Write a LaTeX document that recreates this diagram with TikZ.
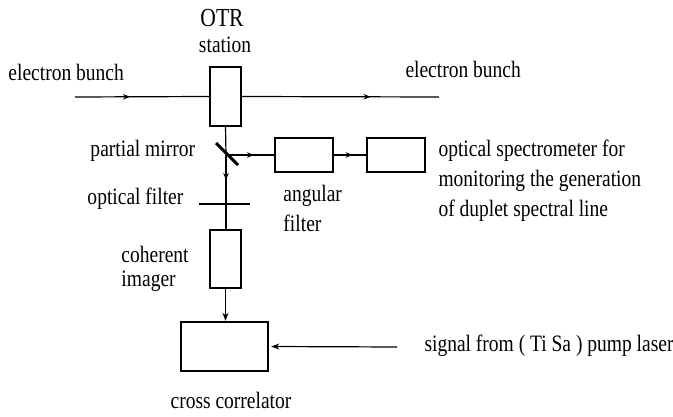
\documentclass[tikz,border=0pt]{standalone}
\usepackage{fontspec}
\setmainfont{Liberation Serif}
\usetikzlibrary{arrows.meta,decorations.markings}
\begin{document}
\begin{tikzpicture}[x=1pt,y=-1pt,
  line width=1.2pt,
  box/.style={draw,line width=1.2pt,fill=white,inner sep=0pt,minimum width=#1},
  lbl/.style={font=\fontsize{23.5}{30}\selectfont,inner sep=0pt,xscale=0.83,transform shape},
  midarr/.style={postaction={decorate},decoration={markings,mark=at position #1 with {\arrow{Stealth[length=7pt,width=5.5pt]}}}},
  endarr/.style={-{Stealth[length=8pt,width=6pt]}}]
\useasboundingbox (0,0) rectangle (673,417);
% boxes
\node[box=31pt,minimum height=59pt] (otr) at (225.5,96.5) {};
\node[box=58pt,minimum height=34pt] (ang) at (304,155) {};
\node[box=58pt,minimum height=34pt] (spec) at (396,155) {};
\node[box=31pt,minimum height=58pt] (img) at (225.5,259) {};
\node[box=87pt,minimum height=49pt,line width=2.5pt] (cc) at (224.5,346.5) {};
% coordinates
\coordinate (bstart) at (75,97);
\coordinate (bend) at (439,97);
\coordinate (mir) at (226,155);
\coordinate (mirA) at (216,143);
\coordinate (mirB) at (238,165);
\coordinate (filA) at (199,204);
\coordinate (filB) at (250,204);
\coordinate (pump) at (397,347);
% beam
\draw[midarr=55pt] (bstart) -- (otr.west);
\draw[midarr=129pt] (otr.east) -- (bend);
% optical path
\draw (otr.south) -- (mir);
\draw[midarr=25pt] (mir) -- (mir |- img.north);
\draw[midarr=28pt] (mir) -- (ang.west);
\draw[midarr=19pt] (ang.east) -- (spec.west);
\draw[endarr] (img.south) -- (img.south |- cc.north);
\draw[endarr,shorten >=2pt] (pump) -- (cc.east);
% mirror and filter
\draw[line width=3pt] (mirA) -- (mirB);
\draw[line width=2.5pt] (filA) -- (filB);
% labels
\node[lbl,anchor=base,font=\fontsize{26}{30}\selectfont] (tOTR) at (222,27) {OTR};
\node[lbl,anchor=base] (tst) at (225,53) {station};
\node[lbl,anchor=base west] (teb1) at (8,81) {electron bunch};
\node[lbl,anchor=base west] (teb2) at (405,78) {electron bunch};
\node[lbl,anchor=base west] (tpm) at (90,157) {partial mirror};
\node[lbl,anchor=base west] (tof) at (87,205) {optical filter};
\node[lbl,anchor=base west] (tang) at (283,202) {angular};
\node[lbl,anchor=base west] (tfil) at (283,232) {filter};
\node[lbl,anchor=base west] (tcoh) at (121,262) {coherent};
\node[lbl,anchor=base west] (timg) at (121,287) {imager};
\node[lbl,anchor=base] (tcc) at (231,408) {cross correlator};
\node[lbl,anchor=base west] (ts1) at (438,157) {optical spectrometer for};
\node[lbl,anchor=base west] (ts2) at (438,187) {monitoring the generation};
\node[lbl,anchor=base west] (ts3) at (438,217) {of duplet spectral line};
\node[lbl,anchor=base west] (tsig) at (424,352) {signal from ( Ti Sa ) pump laser};
\end{tikzpicture}
\end{document}
